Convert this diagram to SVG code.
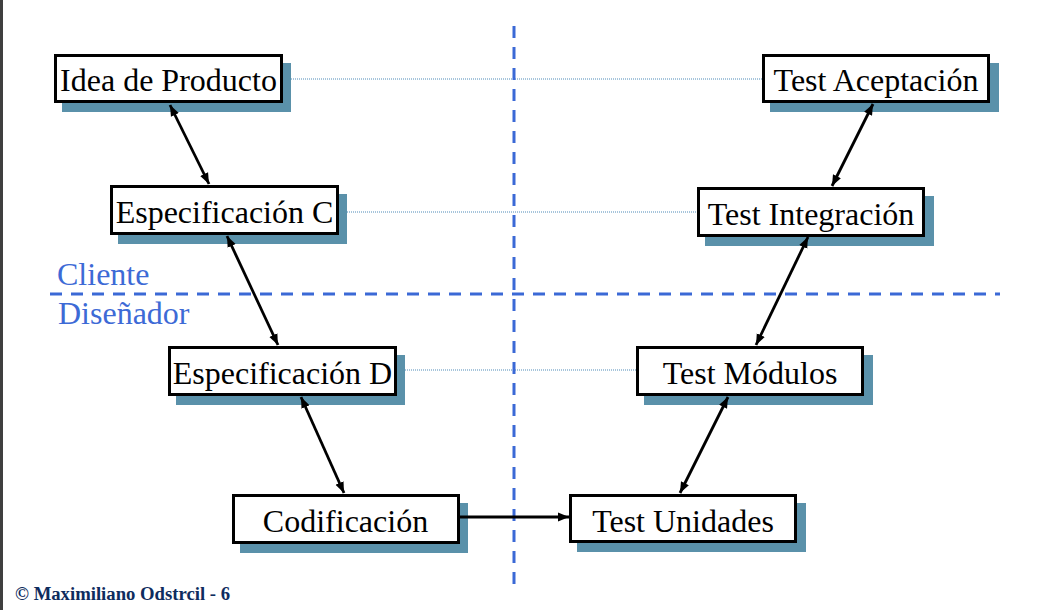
<svg xmlns="http://www.w3.org/2000/svg" width="1042" height="610" viewBox="0 0 1042 610">
<style>
.box{fill:#fff;stroke:#000;stroke-width:3}
.sh{fill:#5a91aa}
.lbl{font-family:"Liberation Serif","Times New Roman",serif;font-size:32px;fill:#000;text-anchor:middle}
.dot{stroke:#4f8bb8;stroke-width:1;stroke-dasharray:1 1;fill:none}
.dash{stroke:#3b69d6;stroke-width:3;stroke-dasharray:12 9;fill:none}
.role{font-family:"Liberation Serif","Times New Roman",serif;font-size:32px;fill:#3d6ad6}
.arr{stroke:#000;stroke-width:2.8;fill:none}
</style>
<defs>
<marker id="ah" markerUnits="userSpaceOnUse" markerWidth="12" markerHeight="10" refX="11" refY="5" orient="auto-start-reverse">
<path d="M0,0.6 L11,5 L0,9.4 Z" fill="#000"/>
</marker>
</defs>
<rect x="0" y="0" width="3" height="610" fill="#3f3f3f"/>
<g id="guides">
<line class="dot" x1="283" y1="79" x2="762" y2="79"/>
<line class="dot" x1="339" y1="212" x2="697" y2="212"/>
<line class="dot" x1="397" y1="370" x2="636" y2="370"/>
<line class="dash" x1="514" y1="26" x2="514" y2="584"/>
<line class="dash" x1="50" y1="294" x2="1000" y2="294"/>
<text class="role" x="57" y="285">Cliente</text>
<text class="role" x="58" y="324">Diseñador</text>
</g>
<g id="idea">
<rect class="sh" x="62" y="63" width="229" height="49"/>
<rect class="box" x="55.5" y="55.5" width="226" height="46"/>
<text class="lbl" x="168.5" y="91">Idea de Producto</text>
</g>
<g id="espec-c">
<rect class="sh" x="118" y="194" width="229" height="50"/>
<rect class="box" x="111.5" y="186.5" width="226" height="47"/>
<text class="lbl" x="224.5" y="223">Especificación C</text>
</g>
<g id="espec-d">
<rect class="sh" x="176" y="355" width="229" height="50"/>
<rect class="box" x="169.5" y="347.5" width="226" height="47"/>
<text class="lbl" x="282.5" y="384">Especificación D</text>
</g>
<g id="codificacion">
<rect class="sh" x="240" y="503" width="228" height="50"/>
<rect class="box" x="233.5" y="495.5" width="225" height="47"/>
<text class="lbl" x="345.5" y="532">Codificación</text>
</g>
<g id="test-aceptacion">
<rect class="sh" x="770" y="63" width="229" height="49"/>
<rect class="box" x="763.5" y="55.5" width="225" height="46"/>
<text class="lbl" x="876" y="91">Test Aceptación</text>
</g>
<g id="test-integracion">
<rect class="sh" x="705" y="196" width="229" height="50"/>
<rect class="box" x="698.5" y="188.5" width="225" height="47"/>
<text class="lbl" x="811" y="225">Test Integración</text>
</g>
<g id="test-modulos">
<rect class="sh" x="644" y="355" width="229" height="50"/>
<rect class="box" x="637.5" y="347.5" width="225" height="47"/>
<text class="lbl" x="750" y="384">Test Módulos</text>
</g>
<g id="test-unidades">
<rect class="sh" x="577" y="503" width="229" height="49"/>
<rect class="box" x="570.5" y="495.5" width="225" height="46"/>
<text class="lbl" x="683" y="532">Test Unidades</text>
</g>
<g id="connectors">
<line class="arr" x1="170" y1="105" x2="209" y2="184" marker-start="url(#ah)" marker-end="url(#ah)"/>
<line class="arr" x1="227" y1="236" x2="278" y2="345" marker-start="url(#ah)" marker-end="url(#ah)"/>
<line class="arr" x1="301" y1="397" x2="344" y2="493" marker-start="url(#ah)" marker-end="url(#ah)"/>
<line class="arr" x1="459" y1="517" x2="569" y2="517" marker-end="url(#ah)"/>
<line class="arr" x1="680" y1="493" x2="728" y2="397" marker-start="url(#ah)" marker-end="url(#ah)"/>
<line class="arr" x1="756" y1="345" x2="808" y2="237" marker-start="url(#ah)" marker-end="url(#ah)"/>
<line class="arr" x1="832" y1="186" x2="873" y2="104" marker-start="url(#ah)" marker-end="url(#ah)"/>
</g>
<text x="15" y="600" font-family="'Liberation Serif','Times New Roman',serif" font-size="18.7" font-weight="bold" fill="#0e2c5e">© Maximiliano Odstrcil - 6</text>
</svg>
